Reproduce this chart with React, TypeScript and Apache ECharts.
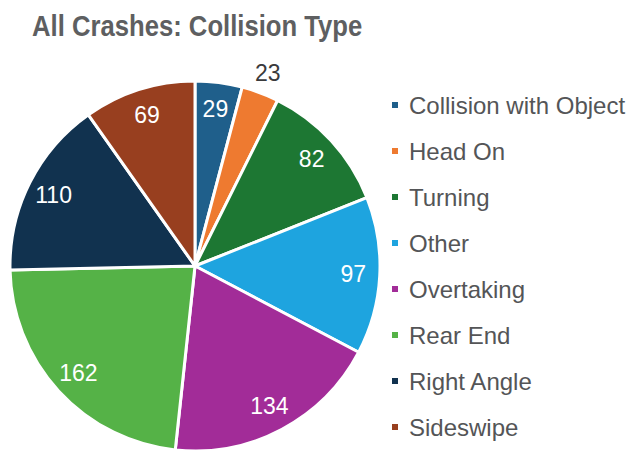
import React, { useEffect, useRef } from "react";
import * as echarts from "echarts";

// Crash counts by collision type
const categories = [
  "Collision with Object",
  "Head On",
  "Turning",
  "Other",
  "Overtaking",
  "Rear End",
  "Right Angle",
  "Sideswipe",
];
const crashCounts = [29, 23, 82, 97, 134, 162, 110, 69];
const sliceColors = [
  "#1f5f8b",
  "#ee7a30",
  "#1d7733",
  "#1ea4df",
  "#a22c98",
  "#55b247",
  "#11324f",
  "#983f1f",
];
// Slices whose value label sits outside the rim
const outerLabelled = ["Head On"];

const FONT = "'Liberation Sans', Arial, Helvetica, sans-serif";

export default function App() {
  const ref = useRef<HTMLDivElement>(null);

  useEffect(() => {
    if (!ref.current) return;
    const chart = echarts.init(ref.current, undefined, { renderer: "svg" });

    const pieData = categories.map((name, i) => ({
      name,
      value: crashCounts[i],
      itemStyle: { color: sliceColors[i] },
    }));

    const center = [187, 258];
    const R = 185;

    chart.setOption({
      animation: false,
      graphic: [
        {
          // condensed bold heading
          type: "text",
          left: 24,
          top: 3,
          scaleX: 0.885,
          style: {
            text: "All Crashes: Collision Type",
            fontFamily: FONT,
            fontWeight: "bold",
            fontSize: 29,
            fill: "#5e5f61",
          },
        },
      ],
      legend: {
        orient: "vertical",
        left: 377,
        top: 80,
        icon: "rect",
        itemWidth: 8,
        itemHeight: 8,
        itemGap: 22,
        data: categories,
        textStyle: {
          fontFamily: FONT,
          fontSize: 24,
          color: "#545557",
          padding: [0, 0, 0, 5],
        },
      },
      series: [
        {
          name: "Collision Type",
          type: "pie",
          center,
          radius: R,
          startAngle: 90,
          clockwise: true,
          silent: true,
          itemStyle: { borderColor: "#ffffff", borderWidth: 3 },
          label: { show: false },
          labelLine: { show: false },
          data: pieData,
        },
        {
          // inner ring carrying the value labels near the rim
          name: "labels",
          type: "pie",
          center,
          radius: [R * 0.68, R],
          startAngle: 90,
          clockwise: true,
          silent: true,
          itemStyle: { color: "rgba(0,0,0,0)" },
          label: {
            show: true,
            position: "inside",
            formatter: "{c}",
            color: "#ffffff",
            fontFamily: FONT,
            fontSize: 23,
          },
          labelLine: { show: false },
          data: categories.map((name, i) => ({
            name,
            value: crashCounts[i],
            label: { show: !outerLabelled.includes(name) },
          })),
        },
        {
          // outer ring for labels of slices too thin to hold them
          name: "outer labels",
          type: "pie",
          center,
          radius: [R, R * 1.2],
          startAngle: 90,
          clockwise: true,
          silent: true,
          itemStyle: { color: "rgba(0,0,0,0)" },
          label: {
            show: true,
            position: "inside",
            formatter: "{c}",
            color: "#3a3a3c",
            fontFamily: FONT,
            fontSize: 23,
          },
          labelLine: { show: false },
          data: categories.map((name, i) => ({
            name,
            value: crashCounts[i],
            label: { show: outerLabelled.includes(name) },
          })),
        },
      ],
    });

    return () => chart.dispose();
  }, []);

  return <div ref={ref} style={{ width: 639, height: 451 }} />;
}
